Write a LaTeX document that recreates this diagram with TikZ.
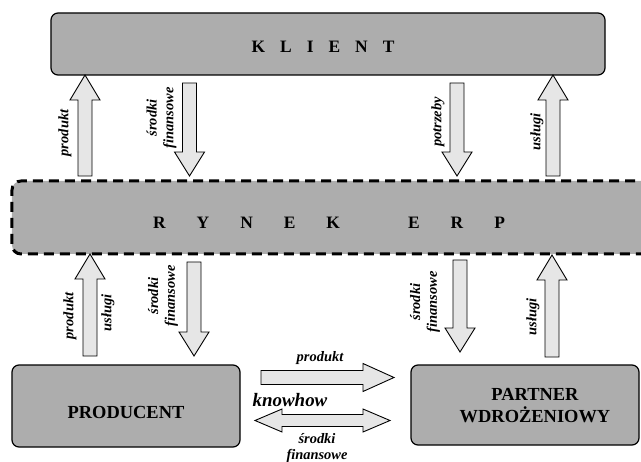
\documentclass[tikz,border=0pt]{standalone}
\usepackage{fontspec}
\setmainfont{Liberation Serif}
\definecolor{boxgray}{HTML}{ADADAD}
\definecolor{arrowgray}{HTML}{E6E6E6}
\tikzset{
  box/.style={draw=black, line width=1.2bp, fill=boxgray, rectangle,
    rounded corners=7bp, inner sep=0pt},
  market/.style={draw=black, line width=3bp, dash pattern=on 10bp off 6bp,
    fill=boxgray, rounded corners=9bp, inner sep=0pt},
  boxtext/.style={font=\bfseries\fontsize{18.5}{22}\selectfont, align=center, inner sep=0pt},
  spacedtext/.style={font=\bfseries\fontsize{17.5}{20}\selectfont, inner sep=0pt},
  blk/.style={draw=black, line width=0.9bp, fill=arrowgray, line join=miter},
  lbl/.style={font=\bfseries\itshape\fontsize{14.5}{17}\selectfont, align=center, inner sep=0pt},
}
% block arrows: centre line, start, tip
\newcommand{\arrUp}[3]{\draw[blk] ({#1-7},#2) -- ({#1-7},{#3+25}) -- ({#1-15},{#3+25}) -- (#1,#3)
  -- ({#1+15},{#3+25}) -- ({#1+7},{#3+25}) -- ({#1+7},#2) -- cycle;}
\newcommand{\arrDown}[3]{\draw[blk] ({#1-7},#2) -- ({#1-7},{#3-24}) -- ({#1-15},{#3-24}) -- (#1,#3)
  -- ({#1+15},{#3-24}) -- ({#1+7},{#3-24}) -- ({#1+7},#2) -- cycle;}
\newcommand{\arrRight}[3]{\draw[blk] (#2,{#1-7}) -- ({#3-31},{#1-7}) -- ({#3-31},{#1-14}) -- (#3,#1)
  -- ({#3-31},{#1+14}) -- ({#3-31},{#1+7}) -- (#2,{#1+7}) -- cycle;}
\newcommand{\arrBoth}[3]{\draw[blk] (#2,#1) -- ({#2+27},{#1-11.5}) -- ({#2+27},{#1-6}) -- ({#3-27},{#1-6})
  -- ({#3-27},{#1-11.5}) -- (#3,#1) -- ({#3-27},{#1+11.5}) -- ({#3-27},{#1+6}) -- ({#2+27},{#1+6})
  -- ({#2+27},{#1+11.5}) -- cycle;}
\begin{document}
\begin{tikzpicture}[x=1bp,y=-1bp]
\useasboundingbox (0,0) rectangle (641,462);
\clip (0,0) rectangle (641,462);

% boxes
\node[box, minimum width=554bp, minimum height=62bp] (klient) at (328,44) {};
\node[market, minimum width=648bp, minimum height=73bp] (rynek) at (336,217.5) {};
\node[box, minimum width=228bp, minimum height=82bp] (producent) at (126,406) {};
\node[box, minimum width=228bp, minimum height=80bp] (partner) at (525,405) {};

\node[spacedtext] (tklient) at (323,47)
  {K\hskip15bp L\hskip15bp I\hskip15bp E\hskip15bp N\hskip15bp T};
\node[spacedtext] (trynek) at (329,223)
  {R\hskip31bp Y\hskip31bp N\hskip31bp E\hskip31bp K\hskip68bp E\hskip31bp R\hskip31bp P};
\node[boxtext] (tproducent) at (126,412) {PRODUCENT};
\node[boxtext] (tpartner) at (535,406) {PARTNER\\WDROŻENIOWY};

% klient <-> rynek
\arrUp{85}{176}{75}
\arrDown{189.5}{83}{176}
\arrDown{457}{83}{176}
\arrUp{553}{176}{75}
\node[lbl, rotate=90] (l1) at (65,133) {produkt};
\node[lbl, rotate=90] (l2) at (161.5,118) {środki\\finansowe};
\node[lbl, rotate=90] (l3) at (438,122) {potrzeby};
\node[lbl, rotate=90] (l4) at (537,132) {usługi};

% rynek <-> producent / partner
\arrUp{90}{356}{254}
\arrDown{194}{262}{356}
\arrDown{460}{260}{352}
\arrUp{552}{357}{255}
\node[lbl, rotate=90] (l5) at (70,316) {produkt};
\node[lbl, rotate=90] (l6) at (108,313) {usługi};
\node[lbl, rotate=90] (l7) at (163,296) {środki\\finansowe};
\node[lbl, rotate=90] (l8) at (425,302) {środki\\finansowe};
\node[lbl, rotate=90] (l9) at (533,317) {usługi};

% producent <-> partner
\arrRight{377.5}{261}{394}
\arrBoth{420.5}{255}{390}
\node[lbl] (l10) at (320,358) {produkt};
\node[font=\bfseries\itshape\fontsize{19}{22}\selectfont, inner sep=0pt] (know) at (290,400) {knowhow};
\node[lbl] (l11) at (317,448) {środki\\finansowe};
\end{tikzpicture}
\end{document}
